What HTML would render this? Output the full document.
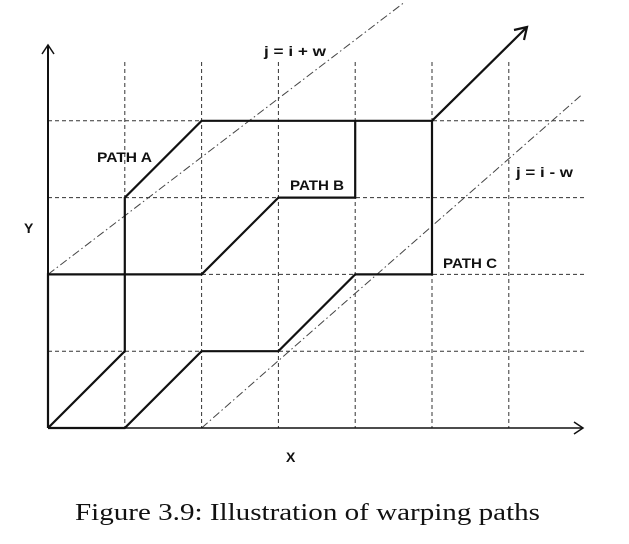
<!DOCTYPE html>
<html><head><meta charset="utf-8"><style>
html,body{margin:0;padding:0;background:#fff;width:629px;height:544px;overflow:hidden}
svg{display:block}
.lbl{font-family:"Liberation Sans",sans-serif;font-weight:bold;font-size:14px;fill:#111}
</style></head><body>
<svg id="chart" width="629" height="544" viewBox="0 0 629 544"></svg>
<script>
const xTicks=[1,2,3,4,5,6];
const yTicks=[1,2,3,4];
const pathA=[[0,0],[0,2],[1,2],[1,3],[2,4],[5,4]];
const pathB=[[0,0],[1,1],[1,2],[2,2],[3,3],[4,3],[4,4]];
const pathC=[[0,0],[1,0],[2,1],[3,1],[4,2],[5,2],[5,4]];
const upperBand=[[0,2],[4.65,5.55]];
const lowerBand=[[2,0],[6.94,4.33]];
const X0=48,Y0=428,U=76.8;
const sx=v=>X0+v*U, sy=v=>Y0-v*U;
const NS="http://www.w3.org/2000/svg";
const svg=document.getElementById('chart');
function mk(tag,attrs,name){const e=document.createElementNS(NS,tag);for(const k in attrs)e.setAttribute(k,attrs[k]);


svg.appendChild(e);return e;}
xTicks.forEach(t=>mk('line',{x1:sx(t),x2:sx(t),y1:62,y2:Y0,stroke:'#333','stroke-width':1,'stroke-dasharray':'4 3'},'grid-x-'+t));
yTicks.forEach(t=>mk('line',{x1:X0,x2:585,y1:sy(t),y2:sy(t),stroke:'#333','stroke-width':1,'stroke-dasharray':'4 3'},'grid-y-'+t));
[[upperBand,'band-upper'],[lowerBand,'band-lower']].forEach(([b,n])=>mk('line',{x1:sx(b[0][0]),y1:sy(b[0][1]),x2:sx(b[1][0]),y2:sy(b[1][1]),stroke:'#444','stroke-width':1,'stroke-dasharray':'8 3 1.5 3'},n));
mk('line',{x1:X0,y1:Y0,x2:X0,y2:45,stroke:'#111','stroke-width':2},'y-axis');
mk('path',{d:'M42,54 L48,45 L54,54',fill:'none',stroke:'#111','stroke-width':1.5},'y-axis-arrow');
mk('line',{x1:X0,y1:Y0,x2:582,y2:Y0,stroke:'#111','stroke-width':1.5},'x-axis');
mk('path',{d:'M574,422 L583,428 L574,434',fill:'none',stroke:'#111','stroke-width':1.5},'x-axis-arrow');
[[pathA,'path-a'],[pathB,'path-b'],[pathC,'path-c']].forEach(([p,n])=>mk('polyline',{points:p.map(q=>sx(q[0])+','+sy(q[1])).join(' '),fill:'none',stroke:'#111','stroke-width':2.2,'stroke-linejoin':'miter'},n));
mk('line',{x1:sx(5),y1:sy(4),x2:526,y2:28,stroke:'#111','stroke-width':2.2},'end-arrow-line');
mk('path',{d:'M514,30 L527,27 L524,40',fill:'none',stroke:'#111','stroke-width':2.2},'end-arrow-head');
function txt(x,y,s,name,len,extra){const a=Object.assign({x:x,y:y,class:'lbl'},extra||{});if(len){a.textLength=len;a.lengthAdjust='spacingAndGlyphs';}const e=mk('text',a,name);e.textContent=s;return e;}
txt(264,56,'j = i + w','label-upper-band',62);
txt(97,162,'PATH A','label-path-a',55);
txt(290,190,'PATH B','label-path-b',54);
txt(516,177,'j = i - w','label-lower-band',57);
txt(443,268,'PATH C','label-path-c',54);
txt(24,233,'Y','y-axis-title');
txt(286,462,'X','x-axis-title');
txt(75,520,'Figure 3.9: Illustration of warping paths','figure-caption',465,{'class':'','font-family':'Liberation Serif, serif','font-size':'24px',fill:'#111'});
</script>
</body></html>
